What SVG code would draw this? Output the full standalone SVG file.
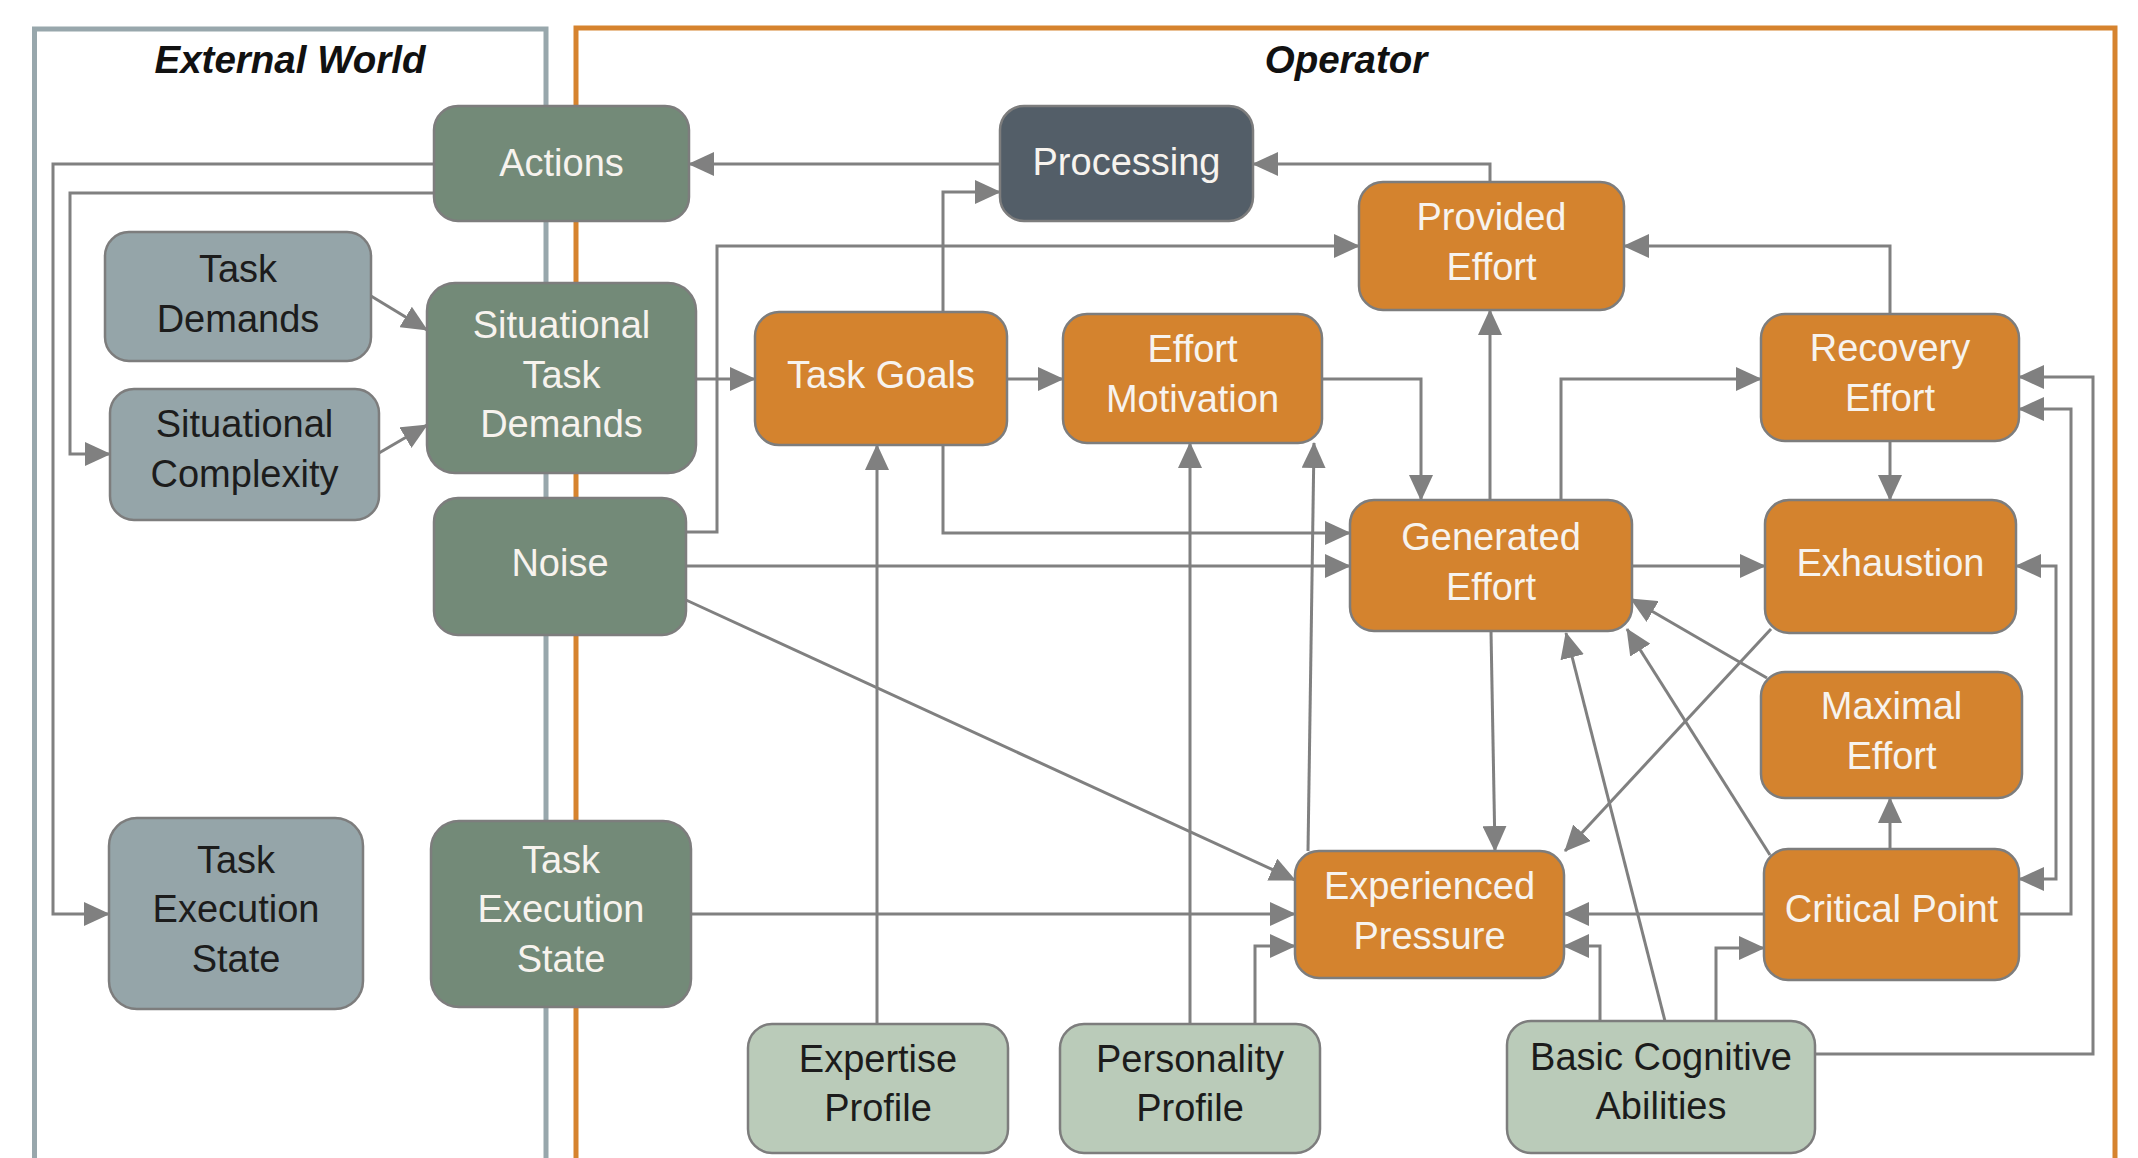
<svg xmlns="http://www.w3.org/2000/svg" width="2138" height="1158" viewBox="0 0 2138 1158">
  <defs>
    <marker id="arrow" markerUnits="userSpaceOnUse" markerWidth="26" markerHeight="24" refX="25" refY="12" orient="auto-start-reverse">
      <path d="M0,0 L26,12 L0,24 z" fill="#808080"/>
    </marker>
    <style>
      .frame { fill: none; stroke-width: 5; }
      .world { stroke: #98a7ac; }
      .operator { stroke: #d6832e; }
      .title { font-family: "Liberation Sans", Arial, sans-serif; font-size: 38.5px; font-weight: bold; font-style: italic; fill: #111; text-anchor: middle; }
      .node rect { stroke: #7d7d7d; stroke-width: 2.5; }
      .node text { font-family: "Liberation Sans", Arial, sans-serif; font-size: 38px; text-anchor: middle; }
      .env rect { fill: #738a78; }
      .env text, .op text, .proc text { fill: #f7f3ee; }
      .ext rect { fill: #95a5a9; }
      .ext text, .trait text { fill: #1c1c1c; }
      .op rect { fill: #d4832e; }
      .proc rect { fill: #535e68; }
      .trait rect { fill: #bacbb9; }
      #connectors path { fill: none; stroke: #808080; stroke-width: 3; marker-end: url(#arrow); }
      #connectors path.both { marker-start: url(#arrow); }
    </style>
  </defs>

  <rect width="2138" height="1158" fill="#ffffff"/>

  <!-- system boundaries -->
  <path class="frame world" d="M34.5,1158 L34.5,29 L546,29 L546,1158"/>
  <path class="frame operator" d="M576,1158 L576,28 L2115,28 L2115,1158"/>
  <text class="title" x="290" y="73">External World</text>
  <text class="title" x="1346" y="73">Operator</text>

  <!-- connectors -->
  <g id="connectors">
    <path d="M1000,164 L689,164"/>
    <path d="M1490,182 L1490,164 L1253,164"/>
    <path d="M943,312 L943,192 L1000,192"/>
    <path d="M434,164 L53,164 L53,914 L109,914"/>
    <path d="M434,193 L70,193 L70,454 L110,454"/>
    <path d="M371,296 L427,330"/>
    <path d="M379,453 L427,425"/>
    <path d="M696,379 L755,379"/>
    <path d="M1007,379 L1063,379"/>
    <path d="M686,532 L717,532 L717,246 L1359,246"/>
    <path d="M1322,379 L1421,379 L1421,500"/>
    <path d="M1490,500 L1490,310"/>
    <path d="M1561,500 L1561,379 L1761,379"/>
    <path d="M1890,314 L1890,246 L1624,246"/>
    <path d="M1890,441 L1890,500"/>
    <path d="M943,445 L943,533 L1350,533"/>
    <path d="M686,566 L1350,566"/>
    <path d="M1632,566 L1765,566"/>
    <path d="M686,600 L1295,880"/>
    <path d="M691,914 L1295,914"/>
    <path d="M1255,1024 L1255,946 L1295,946"/>
    <path d="M877,1024 L877,445"/>
    <path d="M1190,1024 L1190,443"/>
    <path d="M1308,851 L1314,443"/>
    <path d="M1491,631 L1495,851"/>
    <path d="M1771,629 L1565,851"/>
    <path d="M1767,678 L1631,599"/>
    <path d="M1770,855 L1627,629"/>
    <path d="M1665,1021 L1566,633"/>
    <path d="M1890,849 L1890,798"/>
    <path d="M1764,914 L1564,914"/>
    <path d="M1600,1021 L1600,946 L1564,946"/>
    <path d="M1716,1021 L1716,948 L1764,948"/>
    <path d="M2019,914 L2071,914 L2071,409 L2019,409"/>
    <path d="M1815,1054 L2093,1054 L2093,377 L2019,377"/>
    <path class="both" d="M2016,566 L2056,566 L2056,879 L2019,879"/>
  </g>

  <!-- external world -->
  <g id="actions" class="node env">
    <rect x="434" y="106" width="255" height="115" rx="24"/>
    <text x="561.5" y="176">Actions</text>
  </g>
  <g id="task-demands" class="node ext">
    <rect x="105" y="232" width="266" height="129" rx="24"/>
    <text x="238" y="282">Task</text>
    <text x="238" y="332">Demands</text>
  </g>
  <g id="situational-complexity" class="node ext">
    <rect x="110" y="389" width="269" height="131" rx="24"/>
    <text x="244.5" y="437">Situational</text>
    <text x="244.5" y="487">Complexity</text>
  </g>
  <g id="situational-task-demands" class="node env">
    <rect x="427" y="283" width="269" height="190" rx="28"/>
    <text x="561.5" y="338">Situational</text>
    <text x="561.5" y="388">Task</text>
    <text x="561.5" y="437">Demands</text>
  </g>
  <g id="noise" class="node env">
    <rect x="434" y="498" width="252" height="137" rx="24"/>
    <text x="560" y="576">Noise</text>
  </g>
  <g id="task-execution-state-ext" class="node ext">
    <rect x="109" y="818" width="254" height="191" rx="28"/>
    <text x="236" y="873">Task</text>
    <text x="236" y="922">Execution</text>
    <text x="236" y="972">State</text>
  </g>
  <g id="task-execution-state" class="node env">
    <rect x="431" y="821" width="260" height="186" rx="28"/>
    <text x="561" y="873">Task</text>
    <text x="561" y="922">Execution</text>
    <text x="561" y="972">State</text>
  </g>

  <!-- operator -->
  <g id="processing" class="node proc">
    <rect x="1000" y="106" width="253" height="115" rx="24"/>
    <text x="1126.5" y="175">Processing</text>
  </g>
  <g id="task-goals" class="node op">
    <rect x="755" y="312" width="252" height="133" rx="24"/>
    <text x="881" y="388">Task Goals</text>
  </g>
  <g id="effort-motivation" class="node op">
    <rect x="1063" y="314" width="259" height="129" rx="24"/>
    <text x="1192.5" y="362">Effort</text>
    <text x="1192.5" y="412">Motivation</text>
  </g>
  <g id="provided-effort" class="node op">
    <rect x="1359" y="182" width="265" height="128" rx="24"/>
    <text x="1491.5" y="230">Provided</text>
    <text x="1491.5" y="280">Effort</text>
  </g>
  <g id="recovery-effort" class="node op">
    <rect x="1761" y="314" width="258" height="127" rx="24"/>
    <text x="1890" y="361">Recovery</text>
    <text x="1890" y="411">Effort</text>
  </g>
  <g id="generated-effort" class="node op">
    <rect x="1350" y="500" width="282" height="131" rx="24"/>
    <text x="1491" y="550">Generated</text>
    <text x="1491" y="600">Effort</text>
  </g>
  <g id="exhaustion" class="node op">
    <rect x="1765" y="500" width="251" height="133" rx="24"/>
    <text x="1890.5" y="576">Exhaustion</text>
  </g>
  <g id="maximal-effort" class="node op">
    <rect x="1761" y="672" width="261" height="126" rx="24"/>
    <text x="1891.5" y="719">Maximal</text>
    <text x="1891.5" y="769">Effort</text>
  </g>
  <g id="experienced-pressure" class="node op">
    <rect x="1295" y="851" width="269" height="127" rx="24"/>
    <text x="1429.5" y="899">Experienced</text>
    <text x="1429.5" y="949">Pressure</text>
  </g>
  <g id="critical-point" class="node op">
    <rect x="1764" y="849" width="255" height="131" rx="24"/>
    <text x="1891.5" y="922">Critical Point</text>
  </g>
  <g id="expertise-profile" class="node trait">
    <rect x="748" y="1024" width="260" height="129" rx="24"/>
    <text x="878" y="1072">Expertise</text>
    <text x="878" y="1121">Profile</text>
  </g>
  <g id="personality-profile" class="node trait">
    <rect x="1060" y="1024" width="260" height="129" rx="24"/>
    <text x="1190" y="1072">Personality</text>
    <text x="1190" y="1121">Profile</text>
  </g>
  <g id="basic-cognitive-abilities" class="node trait">
    <rect x="1507" y="1021" width="308" height="132" rx="24"/>
    <text x="1661" y="1070">Basic Cognitive</text>
    <text x="1661" y="1119">Abilities</text>
  </g>
</svg>
